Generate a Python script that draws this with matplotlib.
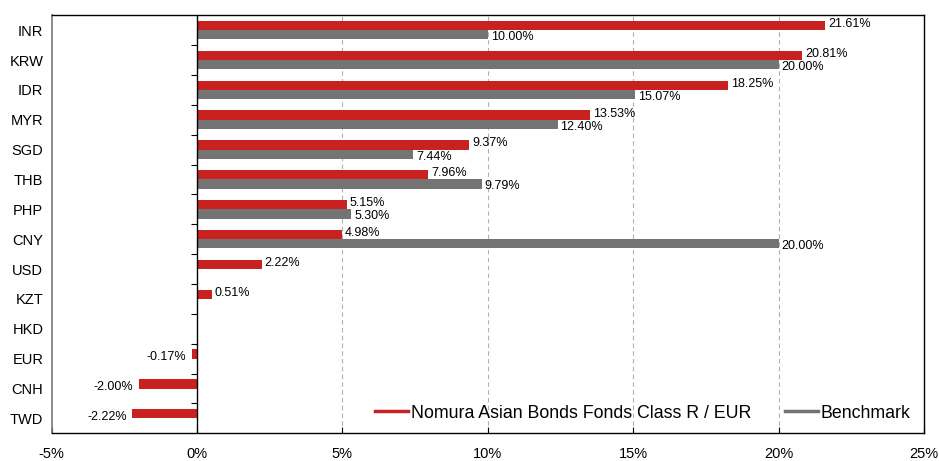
import numpy as np
import matplotlib.pyplot as plt
from matplotlib.lines import Line2D

# currency exposure, top to bottom
currencies = ["INR", "KRW", "IDR", "MYR", "SGD", "THB", "PHP", "CNY",
              "USD", "KZT", "HKD", "EUR", "CNH", "TWD"]
fund = [21.61, 20.81, 18.25, 13.53, 9.37, 7.96, 5.15, 4.98,
        2.22, 0.51, 0.0, -0.17, -2.00, -2.22]
benchmark = [10.00, 20.00, 15.07, 12.40, 7.44, 9.79, 5.30, 20.00,
             None, None, None, None, None, None]
xticks = [-5, 0, 5, 10, 15, 20, 25]

red = "#c8211f"
grey = "#747474"

plt.rcParams['font.family'] = ['Liberation Sans', 'DejaVu Sans']

fig = plt.figure(figsize=(9.39, 4.61), dpi=100)
ax = fig.add_axes([0.055, 0.06, 0.929, 0.907])

y = np.arange(len(currencies))
h = 0.31

# fund bars + labels
for i, v in enumerate(fund):
    if v == 0:
        continue
    ax.barh(y[i] - h / 2, v, height=h, color=red, zorder=3)
    if v > 0:
        ax.text(v + 0.1, y[i] - h / 2 - 0.05, f"{v:.2f}%", fontsize=9,
                va="center", ha="left", zorder=4)
    else:
        ax.text(v - 0.2, y[i] - 0.05, f"{v:.2f}%", fontsize=9,
                va="center", ha="right", zorder=4)

# benchmark bars + labels
for i, v in enumerate(benchmark):
    if v is None:
        continue
    ax.barh(y[i] + h / 2, v, height=h, color=grey, zorder=3)
    ax.text(v + 0.1, y[i] + h / 2 + 0.08, f"{v:.2f}%", fontsize=9,
            va="center", ha="left", zorder=4)

ax.set_xlim(-5, 25)
ax.set_ylim(len(currencies) - 0.5, -0.5)
ax.set_xticks(xticks)
ax.set_xticklabels([f"{t}%" for t in xticks], fontsize=10.5)
ax.tick_params(axis="x", direction="in", length=4, pad=10)
ax.set_yticks(y)
ax.set_yticklabels(currencies, fontsize=10.5)
ax.tick_params(axis="y", length=0, pad=6)

for t in [5, 10, 15, 20]:
    ax.axvline(t, color="#b0b0b0", linestyle=(0, (4, 3)), linewidth=0.8, zorder=1)
ax.axvline(0, color="black", linewidth=1.0, zorder=4)

for s in ["top", "right", "bottom"]:
    ax.spines[s].set_color("black")
    ax.spines[s].set_linewidth(1.0)
ax.spines["left"].set_color("#777777")
ax.spines["left"].set_linewidth(1.2)

# tick marks between categories on the zero line
sec = ax.secondary_yaxis(1 / 6)
sec.set_yticks(np.arange(0.5, len(currencies) - 0.5, 1))
sec.set_yticklabels([])
sec.tick_params(axis="y", direction="out", length=4, color="black")
sec.spines["right"].set_visible(False)
sec.spines["left"].set_visible(False)

handles = [Line2D([], [], color=red, linewidth=2.5),
           Line2D([], [], color=grey, linewidth=2.5)]
ax.legend(handles, ["Nomura Asian Bonds Fonds Class R / EUR", "Benchmark"],
          loc="lower right", bbox_to_anchor=(1.003, -0.01), ncol=2, frameon=False,
          fontsize=12.8, handlelength=1.85, handletextpad=0.15, columnspacing=1.9)

fig.savefig("out.png", dpi=100)
